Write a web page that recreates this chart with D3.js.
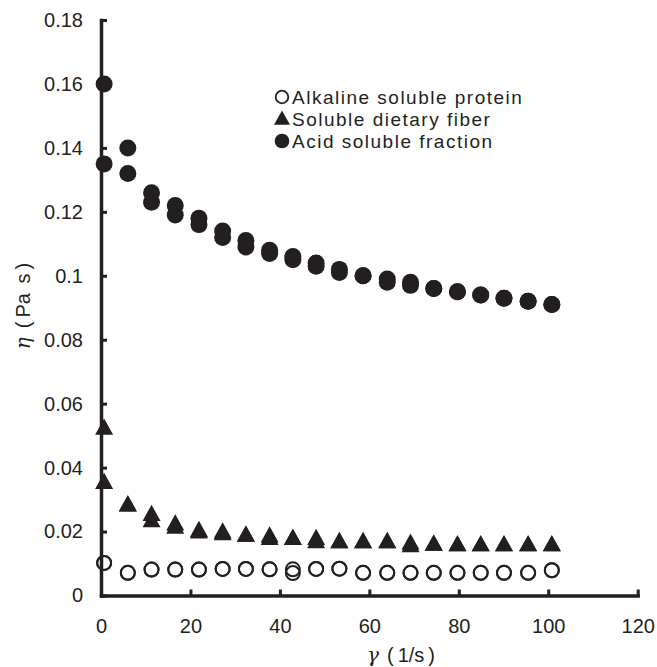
<!DOCTYPE html>
<html>
<head>
<meta charset="utf-8">
<script src="https://cdn.jsdelivr.net/npm/d3@7"></script>
<style>
  body { margin: 0; background: #fff; }
  svg { display: block; }
  .axis text { font-family: "Liberation Sans", Arial, sans-serif; font-size: 20px; fill: #231f20; }
</style>
</head>
<body>
<div id="chart"></div>
<script>
// shear rate (1/s), one entry per measuring step
const shearRate = [0.7, 6.0, 11.3, 16.6, 21.9, 27.2, 32.4, 37.7, 42.9, 48.1,
                   53.3, 58.6, 64.0, 69.2, 74.4, 79.7, 84.9, 90.1, 95.5, 100.8];

// two runs per sample (Pa s)
const alkalineRun1 = [0.0102, 0.0071, 0.0081, 0.0081, 0.0081, 0.0083, 0.0083, 0.0082, 0.0082, 0.0083,
                      0.0084, 0.0071, 0.0071, 0.0071, 0.0071, 0.0071, 0.0071, 0.0071, 0.0071, 0.0079];
const alkalineRun2 = [0.0102, 0.0071, 0.0081, 0.0081, 0.0081, 0.0083, 0.0083, 0.0082, 0.0070, 0.0083,
                      0.0084, 0.0071, 0.0071, 0.0071, 0.0071, 0.0071, 0.0071, 0.0071, 0.0071, 0.0079];

const fiberRun1 = [0.052, 0.028, 0.025, 0.022, 0.020, 0.0195, 0.0185, 0.0183, 0.0175, 0.0175,
                   0.0165, 0.0165, 0.0165, 0.0160, 0.0157, 0.0155, 0.0155, 0.0155, 0.0155, 0.0155];
const fiberRun2 = [0.035, 0.028, 0.023, 0.021, 0.0195, 0.019, 0.0185, 0.0175, 0.0175, 0.0165,
                   0.0165, 0.0165, 0.0165, 0.0152, 0.0157, 0.0155, 0.0155, 0.0155, 0.0155, 0.0155];

const acidRun1 = [0.160, 0.140, 0.126, 0.122, 0.118, 0.114, 0.111, 0.108, 0.106, 0.104,
                  0.102, 0.100, 0.099, 0.098, 0.096, 0.095, 0.094, 0.093, 0.092, 0.091];
const acidRun2 = [0.135, 0.132, 0.123, 0.119, 0.116, 0.112, 0.109, 0.107, 0.105, 0.103,
                  0.101, 0.100, 0.098, 0.097, 0.096, 0.095, 0.094, 0.093, 0.092, 0.091];

const xTicks = [0, 20, 40, 60, 80, 100, 120];
const yTicks = [0, 0.02, 0.04, 0.06, 0.08, 0.1, 0.12, 0.14, 0.16, 0.18];

const legendLabels = ["Alkaline soluble protein", "Soluble dietary fiber", "Acid soluble fraction"];

const ink = "#231f20";
const width = 657, height = 667;

const svg = d3.select("#chart").append("svg")
  .attr("width", width)
  .attr("height", height);

// plot box (pixels)
const x = d3.scaleLinear().domain([0, 120]).range([101, 637.7]);
const y = d3.scaleLinear().domain([0, 0.18]).range([595.5, 20]);

///////////////////
// axes
///////////////////

const yAxis = d3.axisLeft(y)
  .tickValues(yTicks)
  .tickSizeInner(-6)
  .tickSizeOuter(0)
  .tickPadding(18)
  .tickFormat(d => d3.format("")(+d.toFixed(2)));

const xAxis = d3.axisBottom(x)
  .tickValues(xTicks)
  .tickSizeInner(-6)
  .tickSizeOuter(0)
  .tickPadding(23)
  .tickFormat(d3.format("d"));

const gy = svg.append("g").attr("class", "axis")
  .attr("transform", "translate(" + x(0) + ",0)")
  .call(yAxis);

const gx = svg.append("g").attr("class", "axis")
  .attr("transform", "translate(0," + y(0) + ")")
  .call(xAxis);

[gx, gy].forEach(function(g){
  g.select(".domain").attr("stroke", ink).attr("stroke-width", 3.5).attr("stroke-linecap", "square");
  g.selectAll(".tick line").attr("stroke", ink).attr("stroke-width", 3);
});

// axis titles (full-width style brackets, so a bit of air inside them)
svg.append("text")
  .attr("x", 401)
  .attr("y", 662)
  .attr("text-anchor", "middle")
  .attr("fill", ink)
  .style("font-family", "'Liberation Sans', Arial, sans-serif")
  .style("font-size", "20px")
  .call(function(t){
    t.append("tspan").style("font-family", "'DejaVu Serif', serif").style("font-style", "italic").text("γ");
    t.append("tspan").attr("dx", 8).text("(\u20091/s\u2009)");
  });

svg.append("text")
  .attr("transform", "translate(30,306) rotate(-90)")
  .attr("text-anchor", "middle")
  .attr("fill", ink)
  .style("font-family", "'Liberation Sans', Arial, sans-serif")
  .style("font-size", "20px")
  .call(function(t){
    t.append("tspan").style("font-family", "'DejaVu Serif', serif").style("font-style", "italic").text("η");
    t.append("tspan").attr("dx", 9).text("(\u2009Pa\u00a0\u2009s\u2009)");
  });

///////////////////
// markers
///////////////////

function triPath(s) {
  // equilateral-ish triangle with its centroid at the origin
  const h = s * 0.9;
  return "M0," + (-2 * h / 3) + "L" + (s / 2) + "," + (h / 3) + "L" + (-s / 2) + "," + (h / 3) + "Z";
}

function pairs(run) {
  return shearRate.map((v, i) => ({x: v, y: run[i]}));
}

const plot = svg.append("g");

// acid soluble fraction: filled circles
[acidRun1, acidRun2].forEach(function(run){
  plot.append("g").selectAll("circle").data(pairs(run)).enter().append("circle")
    .attr("cx", d => x(d.x))
    .attr("cy", d => y(d.y))
    .attr("r", 8.5)
    .attr("fill", ink);
});

// soluble dietary fiber: filled triangles
[fiberRun1, fiberRun2].forEach(function(run){
  plot.append("g").selectAll("path").data(pairs(run)).enter().append("path")
    .attr("transform", d => "translate(" + x(d.x) + "," + y(d.y) + ")")
    .attr("d", triPath(18))
    .attr("fill", ink);
});

// alkaline soluble protein: open circles
[alkalineRun1, alkalineRun2].forEach(function(run){
  plot.append("g").selectAll("circle").data(pairs(run)).enter().append("circle")
    .attr("cx", d => x(d.x))
    .attr("cy", d => y(d.y))
    .attr("r", 7)
    .attr("fill", "none")
    .attr("stroke", ink)
    .attr("stroke-width", 2);
});

///////////////////
// legend
///////////////////

const legend = svg.append("g").attr("transform", "translate(282,97)");
const rowGap = 22;

legend.append("circle").attr("cx", 0).attr("cy", 0).attr("r", 6.3)
  .attr("fill", "none").attr("stroke", ink).attr("stroke-width", 1.8);
legend.append("path").attr("transform", "translate(0," + (rowGap + 1) + ")")
  .attr("d", triPath(16)).attr("fill", ink);
legend.append("circle").attr("cx", 0).attr("cy", 2 * rowGap).attr("r", 7.3)
  .attr("fill", ink);

legend.selectAll("text.lbl").data(legendLabels).enter().append("text")
  .attr("class", "lbl")
  .attr("x", 10)
  .attr("y", (d, i) => i * rowGap + 7)
  .attr("fill", ink)
  .style("font-family", "'Liberation Sans', Arial, sans-serif")
  .style("font-size", "19px")
  .style("letter-spacing", "1.5px")
  .text(d => d);
</script>
</body>
</html>
